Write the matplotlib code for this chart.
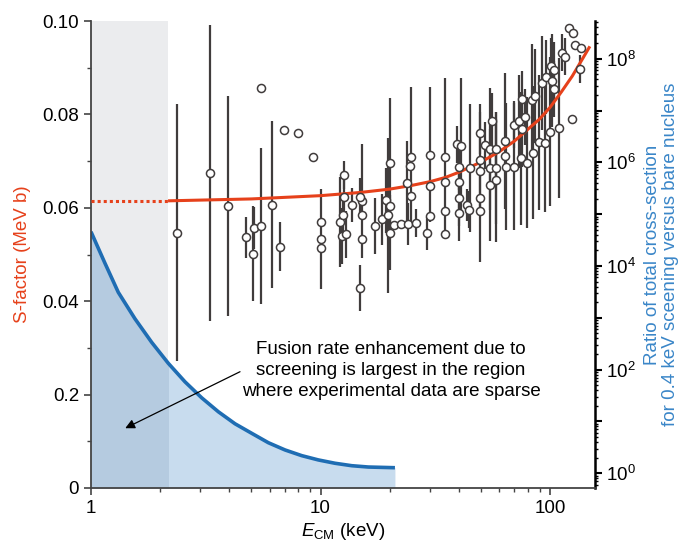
import numpy as np
import matplotlib
matplotlib.use("Agg")
import matplotlib.pyplot as plt
from matplotlib.ticker import FixedLocator, FuncFormatter, NullFormatter

plt.rcParams['font.family'] = ['Liberation Sans', 'DejaVu Sans']
plt.rcParams['mathtext.fontset'] = 'custom'
plt.rcParams['mathtext.rm'] = 'Liberation Sans'
plt.rcParams['mathtext.it'] = 'Liberation Sans:italic'

# Experimental S-factor points: energy (keV), S (MeV b), error
energy = [2.36, 3.30, 3.94, 4.72, 5.06, 5.11, 5.49, 5.52, 6.15, 6.66, 6.93, 8.0, 9.27,
          10.0, 10.0, 10.0, 12.2, 12.5, 12.4, 12.9, 12.7, 12.7, 13.7, 14.9, 15.1, 15.1,
          15.1, 14.9, 17.3, 18.6, 19.2, 19.7, 20.0, 20.0, 20.1, 20.8, 22.4, 24.0, 23.9,
          24.9, 24.6, 24.9, 26.0, 29.0, 30.0, 30.0, 30.0, 34.8, 34.8, 34.8, 34.8, 39.3,
          40.8, 40.0, 40.0, 40.0, 40.0, 43.4, 44.5, 44.8, 49.7, 49.7, 49.7, 49.7, 49.7,
          51.9, 55.9, 54.7, 54.7, 54.7, 58.3, 58.3, 58.3, 63.9, 63.9, 64.5, 69.9, 69.8,
          73.2, 74.8, 75.5, 75.4, 77.6, 79.4, 83.2, 85.8, 84.7, 89.3, 92.6, 94.9, 95.6,
          100.0, 100.7, 103.8, 102.0, 104.4, 109.0, 112.5, 115.9, 121.4, 125.6, 128.5,
          136.0, 134.6, 124.3]
s_factor = [0.0547, 0.0674, 0.0604, 0.0537, 0.0502, 0.0557, 0.0561, 0.0856, 0.0607, 0.0517,
            0.0766, 0.0760, 0.0708, 0.0569, 0.0534, 0.0514, 0.0569, 0.0584, 0.0540, 0.0543,
            0.0670, 0.0623, 0.0606, 0.0428, 0.0614, 0.0584, 0.0534, 0.0623, 0.0561, 0.0575,
            0.0616, 0.0584, 0.0603, 0.0547, 0.0696, 0.0563, 0.0566, 0.0566, 0.0653, 0.0708,
            0.0690, 0.0625, 0.0568, 0.0545, 0.0714, 0.0646, 0.0583, 0.0708, 0.0656, 0.0594,
            0.0543, 0.0736, 0.0732, 0.0688, 0.0655, 0.0620, 0.0588, 0.0606, 0.0596, 0.0686,
            0.0761, 0.0702, 0.0679, 0.0620, 0.0593, 0.0734, 0.0785, 0.0726, 0.0685, 0.0648,
            0.0726, 0.0686, 0.0659, 0.0743, 0.0710, 0.0688, 0.0688, 0.0778, 0.0785, 0.0706,
            0.0768, 0.0834, 0.0795, 0.0697, 0.0830, 0.0839, 0.0718, 0.0740, 0.0867, 0.0739,
            0.0880, 0.0763, 0.0903, 0.0896, 0.0872, 0.0855, 0.0770, 0.0932, 0.0924, 0.0984,
            0.0975, 0.0948, 0.0943, 0.0897, 0.0790]
s_err = [0.0275, 0.0317, 0.0235, 0.0044, 0.0101, 0.0045, 0.0167, 0.0, 0.0179, 0.0053,
         0.0, 0.0, 0.0, 0.0, 0.0107, 0.0, 0.0096, 0.004, 0.006, 0.005,
         0.003, 0.005, 0.0036, 0.005, 0.0122, 0.0, 0.0, 0.004, 0.006, 0.0055,
         0.007, 0.0166, 0.0, 0.008, 0.014, 0.0, 0.0, 0.0045, 0.009, 0.015,
         0.0, 0.0, 0.003, 0.0035, 0.0145, 0.0, 0.0, 0.017, 0.0, 0.0,
         0.0, 0.004, 0.0145, 0.005, 0.0, 0.006, 0.006, 0.0035, 0.004, 0.0137,
         0.0045, 0.012, 0.0, 0.0, 0.011, 0.005, 0.006, 0.013, 0.0, 0.012,
         0.008, 0.012, 0.0132, 0.0146, 0.0, 0.0136, 0.0136, 0.005, 0.010, 0.0143,
         0.008, 0.006, 0.006, 0.014, 0.012, 0.010, 0.0142, 0.0145, 0.010, 0.0148,
         0.008, 0.016, 0.006, 0.006, 0.010, 0.006, 0.015, 0.004, 0.004, 0.0,
         0.0, 0.0, 0.0, 0.003, 0.0]

# Fitted S-factor curve (solid part) and low-energy extrapolation (dotted)
fit_energy = [2.2, 5, 10, 15, 20, 25, 30, 35, 40, 50, 60, 70, 80, 90, 100, 112, 125, 137, 148]
fit_s = [0.0615, 0.0619, 0.0626, 0.0633, 0.0640, 0.0648, 0.0656, 0.0665, 0.0676, 0.0698,
         0.0720, 0.0743, 0.0768, 0.0790, 0.0815, 0.0848, 0.0882, 0.0915, 0.0943]
extrap_energy = [1.0, 2.2]
extrap_s = [0.0615, 0.0615]

# Screening enhancement ratio (right axis)
ratio_energy = [1.0, 1.151, 1.315, 1.555, 1.838, 2.172, 2.568, 3.036, 3.587, 4.242, 5.014,
                5.925, 7.004, 8.28, 9.78, 11.57, 13.68, 16.15, 21.1]
ratio = [45800, 11270, 3105, 957, 337, 132.5, 58.2, 28.6, 15.4, 9.02, 5.91,
         3.89, 2.82, 2.19, 1.81, 1.56, 1.40, 1.32, 1.28]

sparse_edge = 2.16
y_ticks = [0, 0.02, 0.04, 0.06, 0.08, 0.10]
y_tick_labels = ['0', '0.2', '0.04', '0.06', '0.08', '0.10']
x_lim = (1, 157)
ratio_lim = (10 ** -0.284, 10 ** 8.727)

red = '#e6411b'
blue = '#1f6db3'
blue_label = '#3a86c8'
bar_col = '#403c3c'
spine_col = '#444444'

fig = plt.figure(figsize=(6.81, 5.43), dpi=100)
ax1 = fig.add_axes([0.1336, 0.1013, 0.7401, 0.86])
ax2 = ax1.twinx()
ax1.set_zorder(ax2.get_zorder() + 1)
ax1.patch.set_visible(False)

# background layer (ax2): grey band and screening curve
ax2.set_xscale('log')
ax2.set_yscale('log')
ax2.set_xlim(*x_lim)
ax2.set_ylim(*ratio_lim)
band = ax2.axvspan(1, sparse_edge, color='#ebecee', lw=0, zorder=0)
ax2.fill_between(ratio_energy, ratio, ratio_lim[0], color='#c8dcee', lw=0, zorder=1)
dark = ax2.fill_between(ratio_energy, ratio, ratio_lim[0], color='#b5cbe0', lw=0, zorder=2)
dark.set_clip_path(band)
ax2.plot(ratio_energy, ratio, color=blue, lw=2.6, zorder=3, solid_capstyle='butt')

ax2.yaxis.set_major_locator(FixedLocator([10.0 ** k for k in range(0, 9)]))
ax2.yaxis.set_major_formatter(FuncFormatter(
    lambda v, p: r'$\mathregular{10^{%d}}$' % round(np.log10(v)) if round(np.log10(v)) % 2 == 0 else ''))
ax2.yaxis.set_minor_locator(matplotlib.ticker.LogLocator(base=10, subs=np.arange(2, 10), numticks=20))
ax2.yaxis.set_minor_formatter(NullFormatter())
ax2.tick_params(axis='y', which='major', direction='out', length=5, width=1.5, labelsize=13.5, pad=3)
ax2.tick_params(axis='y', which='minor', direction='out', length=2.5, width=1.0)
for side in ['top', 'left', 'bottom']:
    ax2.spines[side].set_visible(False)
ax2.spines['right'].set_linewidth(1.8)
ax2.spines['right'].set_color('black')
ax2.set_ylabel('Ratio of total cross-section\nfor 0.4 keV sceening versus bare nucleus',
               color=blue_label, fontsize=13.5, labelpad=6, linespacing=1.05)

# foreground layer (ax1): data and fit
ax1.set_xscale('log')
ax1.set_xlim(*x_lim)
ax1.set_ylim(0, 0.10)

ax1.errorbar(energy, s_factor, yerr=s_err, fmt='none', ecolor=bar_col, elinewidth=1.6,
             capsize=0, zorder=2)
ax1.plot(extrap_energy, extrap_s, color=red, lw=2.2, ls=(0, (1, 1)), zorder=3)
ax1.plot(fit_energy, fit_s, color=red, lw=2.2, zorder=3)
ax1.plot(energy, s_factor, 'o', ms=5.8, mfc='white', mec=bar_col, mew=1.1, zorder=4)

ax1.annotate('', xy=(1.41, 0.0128), xytext=(4.46, 0.0249),
             arrowprops=dict(arrowstyle='-|>', color='black', lw=0.9,
                             mutation_scale=14, shrinkA=0, shrinkB=0))
ax1.text(20.3, 0.0252, 'Fusion rate enhancement due to\nscreening is largest in the region\n'
         'where experimental data are sparse', ha='center', va='center', fontsize=13.5,
         linespacing=1.32)

ax1.set_yticks(y_ticks)
ax1.set_yticklabels(y_tick_labels)
ax1.set_yticks(np.arange(0.01, 0.10, 0.02), minor=True)
ax1.set_xticks([1, 10, 100])
ax1.set_xticklabels(['1', '10', '100'])
ax1.tick_params(axis='both', which='major', direction='out', length=5, width=1.2,
                color=spine_col, labelsize=13.5)
ax1.tick_params(axis='both', which='minor', direction='out', length=3, width=1.0, color=spine_col)
ax1.tick_params(axis='x', which='minor', labelbottom=False)
for side in ['top', 'right']:
    ax1.spines[side].set_visible(False)
for side in ['left', 'bottom']:
    ax1.spines[side].set_color(spine_col)
    ax1.spines[side].set_linewidth(1.3)

ax1.set_ylabel('S-factor (MeV b)', color=red, fontsize=13.5, labelpad=8)
ax1.set_xlabel(r'$E_{\mathrm{CM}}$ (keV)', fontsize=13.5, labelpad=3)

fig.savefig('out.png', dpi=100)
